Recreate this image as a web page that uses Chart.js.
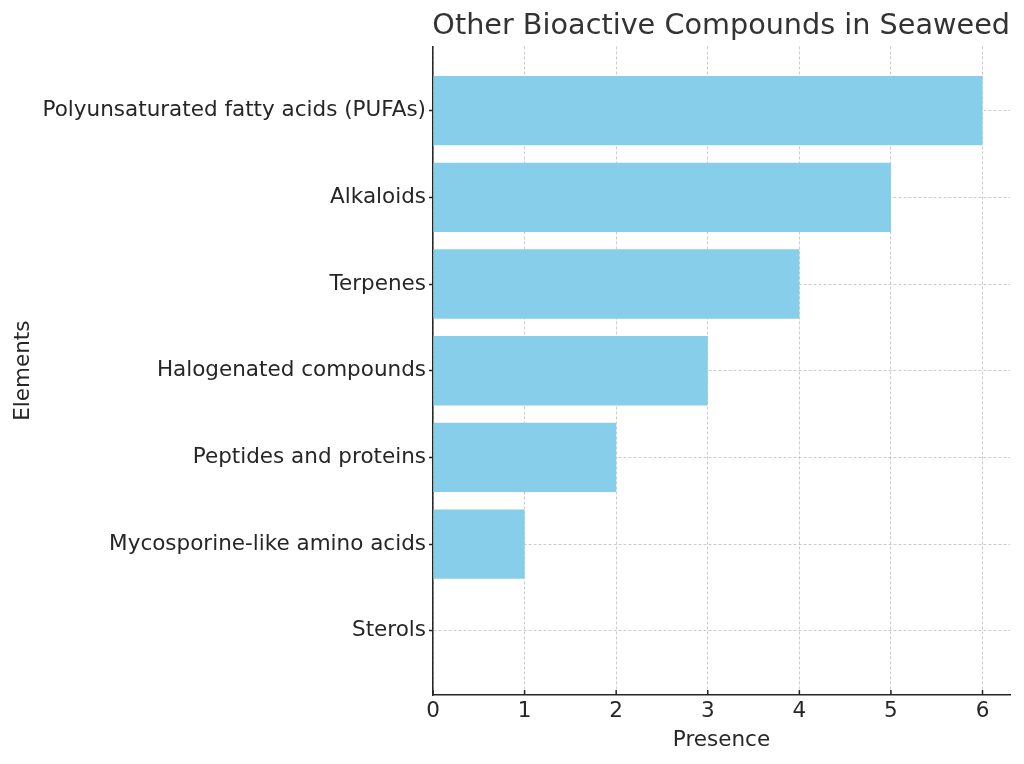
<!DOCTYPE html>
<html lang="en">
<head>
    <meta charset="UTF-8">
    <title>Other Bioactive Compounds in Seaweed</title>
    <style>
        html, body {
            margin: 0;
            padding: 0;
            background: #fff;
        }
        #chart-box {
            width: 1024px;
            height: 764px;
        }
    </style>
    <script src="https://cdn.jsdelivr.net/npm/chart.js@4"></script>
</head>
<body>
    <div id="chart-box">
        <canvas id="chart"></canvas>
    </div>

    <script>
        // categories from bottom (index 0) to top
        const categories = [
            "Sterols",
            "Mycosporine-like amino acids",
            "Peptides and proteins",
            "Halogenated compounds",
            "Terpenes",
            "Alkaloids",
            "Polyunsaturated fatty acids (PUFAs)"
        ];
        const presence = [0, 1, 2, 3, 4, 5, 6];
        const xTicks = [0, 1, 2, 3, 4, 5, 6];

        const FONT = "'DejaVu Sans', sans-serif";
        const gridColor = "rgba(176, 176, 176, 0.65)";
        const axisColor = "#262626";

        // matplotlib puts the x ticks inside the axes
        const innerTicks = {
            id: "innerTicks",
            afterDraw(chart) {
                const ctx = chart.ctx;
                const x = chart.scales.x;
                ctx.save();
                ctx.strokeStyle = axisColor;
                ctx.lineWidth = 1.5;
                x.ticks.forEach(t => {
                    const px = x.getPixelForValue(t.value);
                    ctx.beginPath();
                    ctx.moveTo(px, x.top);
                    ctx.lineTo(px, x.top - 5);
                    ctx.stroke();
                });
                ctx.restore();
            }
        };

        const ctx = document.getElementById("chart").getContext("2d");
        new Chart(ctx, {
            type: "bar",
            data: {
                datasets: [{
                    data: presence.map((v, i) => ({ x: v, y: i })),
                    backgroundColor: "#87CEEB",
                    borderWidth: 0,
                    barPercentage: 0.8,
                    categoryPercentage: 1.0
                }]
            },
            options: {
                indexAxis: "y",
                responsive: true,
                maintainAspectRatio: false,
                animation: false,
                layout: {
                    padding: { left: 0, right: 14, top: 0, bottom: 0 }
                },
                plugins: {
                    legend: { display: false },
                    tooltip: { enabled: false },
                    title: {
                        display: true,
                        text: "Other Bioactive Compounds in Seaweed",
                        align: "end",
                        color: "#333333",
                        font: { family: FONT, size: 28.7, weight: "normal" },
                        padding: { top: 9, bottom: 3 }
                    }
                },
                scales: {
                    x: {
                        type: "linear",
                        min: 0,
                        max: 6.3,
                        z: 1,
                        afterBuildTicks: scale => {
                            scale.ticks = xTicks.map(v => ({ value: v }));
                        },
                        afterFit: scale => {
                            scale.height = 69;
                        },
                        grid: {
                            color: gridColor,
                            lineWidth: 1,
                            drawTicks: false
                        },
                        border: { display: true, color: axisColor, width: 1.5, dash: [3, 2] },
                        ticks: {
                            color: axisColor,
                            padding: 4,
                            font: { family: FONT, size: 21.5 }
                        },
                        title: {
                            display: true,
                            text: "Presence",
                            color: axisColor,
                            font: { family: FONT, size: 21.5 },
                            padding: { top: 0, bottom: 11 }
                        }
                    },
                    y: {
                        type: "linear",
                        min: -0.74,
                        max: 6.74,
                        offset: false,
                        z: 1,
                        afterBuildTicks: scale => {
                            scale.ticks = categories.map((c, i) => ({ value: i }));
                        },
                        afterFit: scale => {
                            scale.width = 433;
                        },
                        grid: {
                            offset: false,
                            color: gridColor,
                            lineWidth: 1,
                            drawTicks: true,
                            tickLength: 4,
                            tickColor: axisColor,
                            tickWidth: 1.5,
                            tickBorderDash: []
                        },
                        border: { display: true, color: axisColor, width: 1.5, dash: [3, 2] },
                        ticks: {
                            color: axisColor,
                            padding: 3,
                            font: { family: FONT, size: 21.5 },
                            callback: v => categories[v]
                        },
                        title: {
                            display: true,
                            text: "Elements",
                            color: axisColor,
                            font: { family: FONT, size: 21.5 },
                            padding: { top: 11, bottom: 0 }
                        }
                    }
                }
            },
            plugins: [innerTicks]
        });
    </script>
</body>
</html>
